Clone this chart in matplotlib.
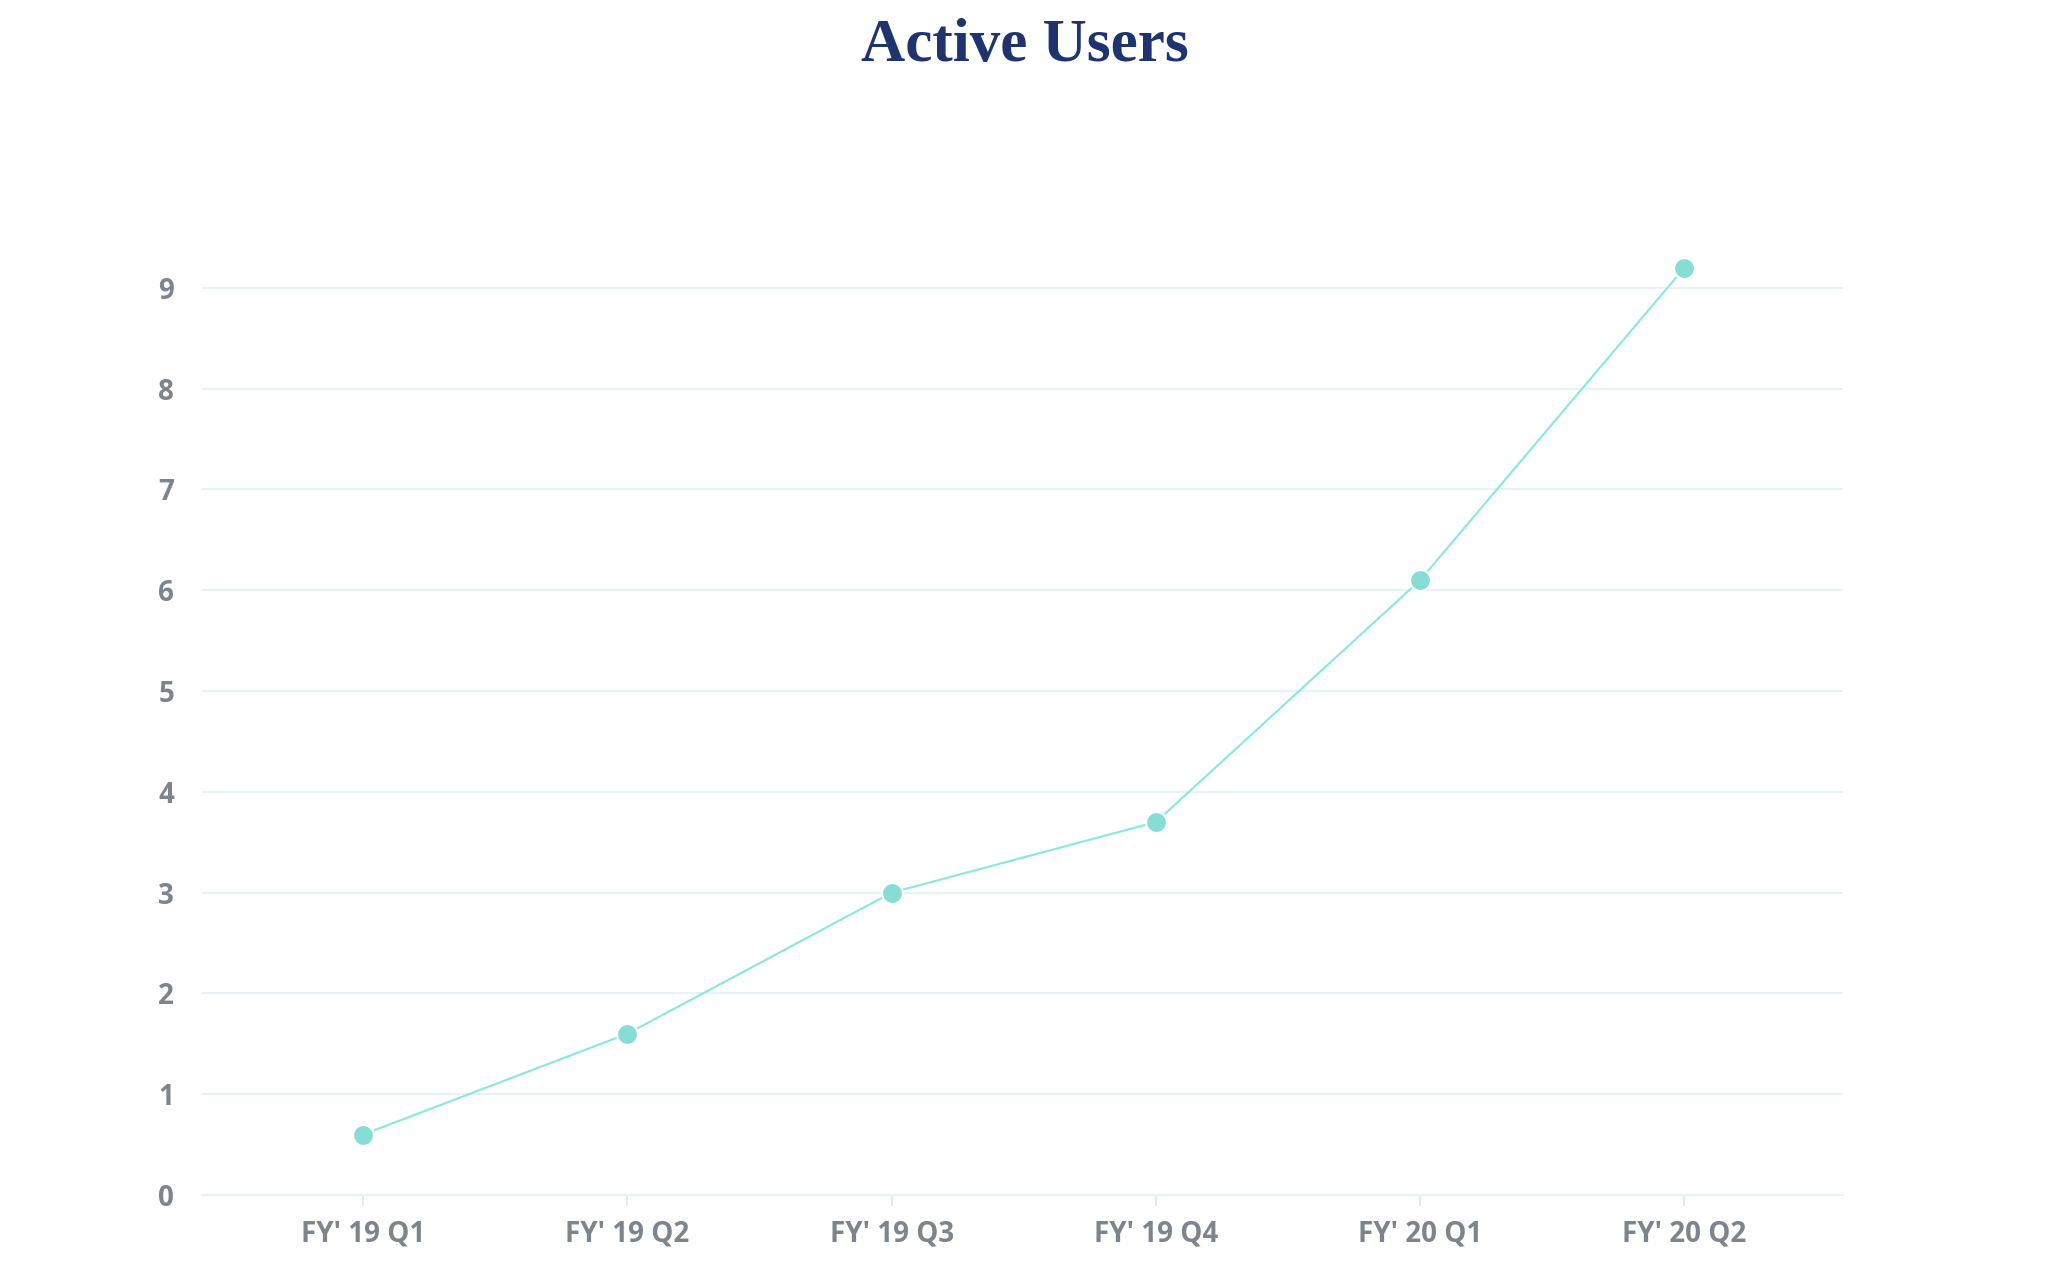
import matplotlib
matplotlib.use("Agg")
import matplotlib.pyplot as plt

categories = ["FY' 19 Q1", "FY' 19 Q2", "FY' 19 Q3", "FY' 19 Q4", "FY' 20 Q1", "FY' 20 Q2"]
values = [0.6, 1.6, 3.0, 3.7, 6.1, 9.2]
yticks = [0, 1, 2, 3, 4, 5, 6, 7, 8, 9]

W, H = 2048, 1282
fig = plt.figure(figsize=(W / 100, H / 100), dpi=100)
left, right, bottom = 202, 1843, 1195
ymax = 9.5
unit = 100.8
top = bottom - ymax * unit
ax = fig.add_axes([left / W, (H - bottom) / H, (right - left) / W, (bottom - top) / H])

x = list(range(len(categories)))
ax.plot(x, values, color="#86e8df", lw=1.5, zorder=3, clip_on=False)
ax.plot(x, values, ls="none", marker="o", ms=15, mfc="#86ddd3", mec="white", mew=1.5,
        zorder=4, clip_on=False)

ax.set_xlim(-0.61, 5.6)
ax.set_ylim(0, ymax)
ax.set_yticks(yticks)
ax.set_xticks(x)
ax.set_xticklabels(categories)
ax.grid(axis="y", color="#e8f2f6", lw=1.5)
ax.set_axisbelow(True)
for s in ["top", "right", "left"]:
    ax.spines[s].set_visible(False)
ax.spines["bottom"].set_color("#e8f2f6")
ax.spines["bottom"].set_linewidth(1.5)
ax.tick_params(axis="y", length=0, pad=20, labelsize=20, labelcolor="#7d848b")
ax.tick_params(axis="x", length=8, width=1.2, color="#dbe9f0", pad=10, labelsize=20,
               labelcolor="#7d848b")
for lab in ax.get_xticklabels() + ax.get_yticklabels():
    lab.set_fontfamily(["Open Sans", "DejaVu Sans"])
    lab.set_fontweight("bold")

fig.text(1025 / W, 1 - 46 / H, "Active Users", ha="center", va="center",
         fontsize=44, fontweight="bold", family=["Liberation Serif", "DejaVu Serif"],
         color="#1f336f")

fig.savefig("out.png", dpi=100, facecolor="white")
